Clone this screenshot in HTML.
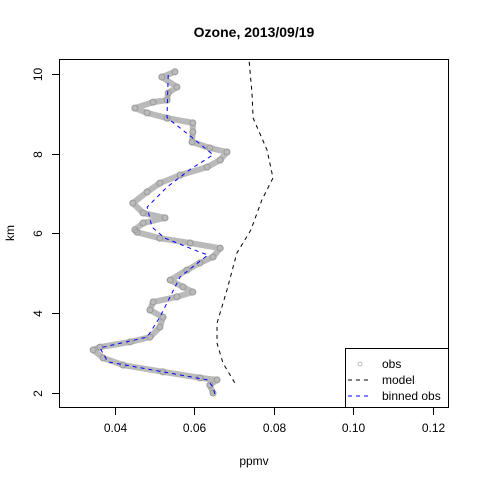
<!DOCTYPE html>
<html><head><meta charset="utf-8"><style>
body{margin:0;background:#fff}
svg{display:block;font-family:"Liberation Sans",Arial,sans-serif}
</style></head><body>
<svg id="chart" width="480" height="480" viewBox="0 0 480 480">
<rect x="0" y="0" width="480" height="480" fill="#fff"/>
<text x="254" y="37" text-anchor="middle" font-size="14" font-weight="bold">Ozone, 2013/09/19</text>
<g id="marks"></g>
<rect x="59.5" y="59.5" width="389" height="348" fill="none" stroke="#000"/>
<g id="axes"></g>
<text x="254" y="465" text-anchor="middle" font-size="12">ppmv</text>
<text transform="translate(14,233) rotate(-90)" text-anchor="middle" font-size="12">km</text>
<g>
<rect x="345.5" y="348.5" width="103" height="59" fill="#fff" stroke="#000"/>
<circle cx="360" cy="364" r="2" fill="none" stroke="#bbb"/>
<text x="382" y="368" font-size="12">obs</text>
<line x1="348" y1="380" x2="372" y2="380" stroke="#000" stroke-dasharray="4,4"/>
<text x="382" y="384" font-size="12">model</text>
<line x1="348" y1="396" x2="372" y2="396" stroke="#00f" stroke-dasharray="4,4"/>
<text x="382" y="400" font-size="12">binned obs</text>
</g>
</svg>
<script>
const obsPpmv=[.0551,.0518,.0556,.0534,.0531,.0496,.0450,.0481,.0531,.0596,.0596,.0594,.0639,.0682,.0665,.0632,.0564,.0513,.0481,.0445,.0471,.0526,.0471,.0450,.0455,.0513,.0589,.0665,.0647,.0614,.0581,.0539,.0571,.0596,.0556,.0496,.0488,.0521,.0513,.0488,.0438,.0362,.0345,.0370,.0420,.0521,.0614,.0657,.0639,.0647];
const obsKm=[10.05,9.92,9.67,9.52,9.34,9.29,9.14,9.02,8.89,8.77,8.54,8.29,8.14,8.04,7.84,7.66,7.46,7.26,7.04,6.76,6.51,6.39,6.26,6.09,6.03,5.88,5.76,5.63,5.41,5.26,5.08,4.83,4.66,4.53,4.41,4.28,4.08,3.90,3.65,3.40,3.28,3.15,3.08,2.88,2.70,2.53,2.38,2.33,2.20,2.00];
const binPpmv=[.0534,.0531,.0596,.0647,.0589,.0531,.0481,.0493,.0526,.0614,.0634,.0564,.0513,.0481,.0362,.0382,.0632,.0647,.0652];
const binKm=[9.97,8.9,8.39,7.97,7.6,7.16,6.66,6.16,5.88,5.53,5.46,4.91,3.90,3.40,3.13,2.78,2.33,2.15,1.95];
const modelPpmv=[.0738,.0745,.0748,.0783,.0798,.0770,.0742,.0707,.0682,.0657,.0657,.0672,.0702];
const modelKm=[10.3,9.52,8.89,8.09,7.39,6.84,6.08,5.51,4.58,3.75,3.25,2.75,2.25];
const xTicks=[0.04,0.06,0.08,0.10,0.12];
const xTickLabels=["0.04","0.06","0.08","0.10","0.12"];
const yTicks=[2,4,6,8,10];
const yTickLabels=["2","4","6","8","10"];
const NS="http://www.w3.org/2000/svg";
const X=v=>115+(v-0.04)*3970;
const Y=k=>393-(k-2)*39.9;
const marks=document.getElementById('marks');
const axes=document.getElementById('axes');
function mk(tag,attrs,parent){const e=document.createElementNS(NS,tag);for(const k in attrs)e.setAttribute(k,attrs[k]);parent.appendChild(e);return e;}
const clip=mk('clipPath',{id:'pc'},marks);mk('rect',{x:59.5,y:59.5,width:389,height:348},clip);
const g=mk('g',{'clip-path':'url(#pc)'},marks);
const band=mk('polyline',{points:obsPpmv.map((v,i)=>X(v)+','+Y(obsKm[i])).join(' '),fill:'none',stroke:'#8c8c8c','stroke-width':6,'stroke-opacity':0.6,'stroke-linejoin':'round','stroke-linecap':'round'},g);


obsPpmv.forEach((v,i)=>{const c=mk('circle',{cx:X(v),cy:Y(obsKm[i]),r:3,fill:'none',stroke:'#999','stroke-width':1},g);

});
const ml=mk('polyline',{points:modelPpmv.map((v,i)=>X(v)+','+Y(modelKm[i])).join(' '),fill:'none',stroke:'#000','stroke-width':1,'stroke-dasharray':'4,4'},g);


const bl=mk('polyline',{points:binPpmv.map((v,i)=>X(v)+','+Y(binKm[i])).join(' '),fill:'none',stroke:'#00f','stroke-width':1,'stroke-dasharray':'4,4'},g);


xTicks.forEach((t,i)=>{const x=Math.round(X(t))+0.5;
const l=mk('line',{x1:x,y1:408,x2:x,y2:415,stroke:'#000'},axes);


const tx=mk('text',{x:x,y:432,'text-anchor':'middle','font-size':12},axes);tx.textContent=xTickLabels[i];

});
yTicks.forEach((t,i)=>{const y=Math.round(Y(t))+0.5;
const l=mk('line',{x1:52,y1:y,x2:59,y2:y,stroke:'#000'},axes);


const tx=mk('text',{transform:`translate(42,${y}) rotate(-90)`,'text-anchor':'middle','font-size':12},axes);tx.textContent=yTickLabels[i];

});
</script>
</body></html>
